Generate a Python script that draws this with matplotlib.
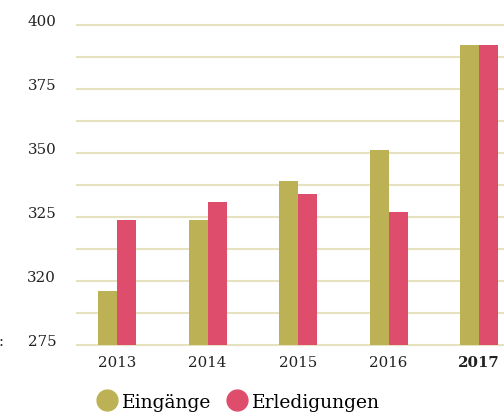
import numpy as np
import matplotlib
matplotlib.use('Agg')
import matplotlib.pyplot as plt
from matplotlib.lines import Line2D

years = ['2013', '2014', '2015', '2016', '2017']
eingaenge = [296, 324, 339, 351, 392]
erledigungen = [324, 331, 334, 327, 392]
ytick_values = [275, 300, 325, 350, 375, 400]
ytick_labels = ['275', '320', '325', '350', '375', '400']

olive = '#BCB255'
pink = '#DE4E6C'
gridc = '#E6E1BF'

plt.rcParams['font.family'] = 'DejaVu Serif'

fig = plt.figure(figsize=(5.04, 4.14), dpi=100)
ax = fig.add_axes([77/504, 1 - 346/414, 1 - 77/504, (346 - 26)/414])

x = np.arange(len(years))
w = 0.21
ax.bar(x - w/2, eingaenge, width=w, color=olive, zorder=3)
ax.bar(x + w/2, erledigungen, width=w, color=pink, zorder=3)

ax.set_xlim(-0.442, 4.276)
ax.set_ylim(275, 400)
ax.set_yticks(ytick_values, ytick_labels)
ax.set_yticks(np.arange(275, 401, 12.5), minor=True)
ax.yaxis.grid(True, which='both', color=gridc, linewidth=1.5, zorder=0)
for t in ax.yaxis.get_major_ticks() + ax.yaxis.get_minor_ticks():
    t.gridline.set_clip_on(False)
ax.set_axisbelow(True)
for s in ax.spines.values():
    s.set_visible(False)

ax.tick_params(axis='y', which='both', length=0, pad=15, labelsize=10.8, labelcolor='#222222')
for lab in ax.get_yticklabels():
    lab.set_verticalalignment('baseline')
ax.set_xticks(x, years)
ax.tick_params(axis='x', length=0, pad=7, labelsize=10.8, labelcolor='#222222')
ax.get_xticklabels()[-1].set_fontweight('bold')

handles = [Line2D([], [], marker='o', linestyle='', color=olive, markersize=15),
           Line2D([], [], marker='o', linestyle='', color=pink, markersize=15)]
fig.legend(handles, ['Eingänge', 'Erledigungen'], loc='center left',
           bbox_to_anchor=(98/504, 1 - 403/414), ncol=2, frameon=False,
           fontsize=13.5, handletextpad=0.3, columnspacing=0.85,
           handlelength=1.0, borderaxespad=0, borderpad=0)

fig.text(-0.002, 1 - 342/414, ':', ha='left', va='center', fontsize=10.8, color='#222222')

fig.savefig('out.png', dpi=100)
